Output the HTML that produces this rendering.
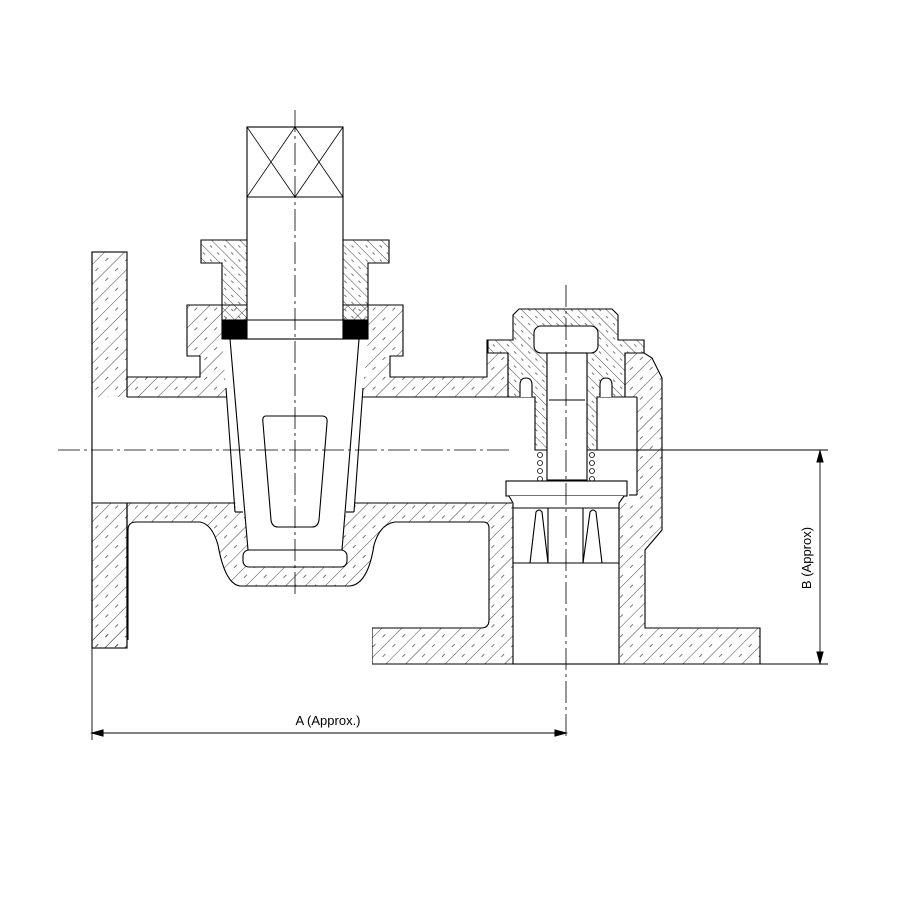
<!DOCTYPE html>
<html><head><meta charset="utf-8"><style>html,body{margin:0;padding:0;background:#fff}svg{display:block}</style></head>
<body>
<svg width="900" height="900" viewBox="0 0 900 900" xmlns="http://www.w3.org/2000/svg" font-family="Liberation Sans, sans-serif">
<defs>
<pattern id="h1" width="14" height="14" patternUnits="userSpaceOnUse" patternTransform="rotate(-45)">
<line x1="0" y1="0" x2="14" y2="0" stroke="#333" stroke-width="0.9"/>
<line x1="2" y1="7" x2="6" y2="7" stroke="#555" stroke-width="0.8"/>
</pattern>
<pattern id="h2" width="10" height="10" patternUnits="userSpaceOnUse" patternTransform="rotate(45)">
<line x1="0" y1="0" x2="10" y2="0" stroke="#333" stroke-width="0.9"/>
<line x1="2" y1="5" x2="5" y2="5" stroke="#555" stroke-width="0.8"/>
</pattern>
</defs>
<g stroke="#000" stroke-width="1.1" fill="none">
<rect x="92" y="252" width="35" height="396" fill="url(#h1)"/>
<path d="M127,377 H200 V356 H187 V305 H403 V356 H390 V377 H487 V340 H644 V353 L652,358 L662,378 V530 L645,550 V628 H760 V664 H372 V628 H127 Z" fill="url(#h1)"/>
<rect x="92" y="397" width="545" height="106" fill="#fff" stroke="none"/>
<line x1="127" y1="397" x2="637" y2="397"/>
<line x1="92" y1="503" x2="512" y2="503"/>
<line x1="92" y1="252" x2="92" y2="648"/>
<path d="M127,522 H200 Q212,524 218,545 Q225,584 240,586 H350 Q368,584 374,545 Q380,524 395,522 H483 Q489,522 489,528 V628 H372 V700 H128 V522 Z" fill="#fff" stroke="none"/>
<rect x="93" y="629" width="33" height="19" fill="url(#h1)" stroke="none"/>
<path d="M128,640 V530 Q128,522 136,522 H200 Q212,524 218,545 Q225,584 240,586 H350 Q368,584 374,545 Q380,524 395,522 H483 Q489,522 489,528 V620 Q489,628 481,628 H372"/>
<line x1="127" y1="503" x2="127" y2="648"/>
<line x1="92" y1="648" x2="127" y2="648"/>
<line x1="637" y1="397" x2="637" y2="495"/>
<line x1="629" y1="495" x2="637" y2="495"/>
<rect x="513" y="503" width="106" height="161" fill="#fff"/>
<path d="M488,340 H513 V315 L519,309 H612 L618,315 V340 H644 V353 H625 V397 H597 V450 H587 V353 H547 V450 H535 V397 H508 V353 H488 Z" fill="#fff" stroke="none"/>
<path d="M488,340 H513 V315 L519,309 H612 L618,315 V340 H644 V353 H625 V397 H597 V450 H587 V353 H547 V450 H535 V397 H508 V353 H488 Z" fill="url(#h2)"/>
<line x1="488" y1="353" x2="508" y2="353"/>
<line x1="508" y1="353" x2="508" y2="397"/>
<line x1="625" y1="353" x2="625" y2="397"/>
<rect x="534" y="326" width="64" height="27" rx="7" fill="#fff"/>
<rect x="547" y="353" width="40" height="127" fill="#fff"/>
<line x1="549" y1="400" x2="585" y2="400"/>
<path d="M520,397 V385 Q520,378 526,378 Q532,378 532,385 V397 M600,397 V385 Q600,378 606,378 Q612,378 612,385 V397" fill="#fff"/>
<g stroke-width="0.8">
<circle cx="540" cy="455" r="2.5"/><circle cx="540" cy="463" r="2.5"/><circle cx="540" cy="471" r="2.5"/><circle cx="540" cy="479" r="2.5"/>
<circle cx="592" cy="455" r="2.5"/><circle cx="592" cy="463" r="2.5"/><circle cx="592" cy="471" r="2.5"/><circle cx="592" cy="479" r="2.5"/>
</g>
<rect x="506" y="481" width="121" height="15" fill="#fff"/>
<path d="M509,496 L513,503 V563 H619 V503 L624,496" fill="#fff"/>
<line x1="513" y1="508" x2="619" y2="508"/>
<path d="M530,563 L536,512 Q539,508 542,512 L548,563 M583,563 L590,512 Q593,508 596,512 L602,563"/>
<line x1="548" y1="508" x2="548" y2="563"/><line x1="583" y1="508" x2="583" y2="563"/>
<path d="M222,339 H368 L363,388 L354,512 H236 L226,388 Z" fill="#fff" stroke="none"/>
<line x1="226" y1="388" x2="235" y2="512"/><line x1="235" y1="512" x2="243" y2="512"/>
<line x1="363" y1="388" x2="354" y2="512"/><line x1="354" y1="512" x2="346" y2="512"/>
<path d="M230,339 H359 L342,550 H248 Z" fill="#fff"/>
<rect x="243" y="550" width="104" height="17" rx="6" fill="#fff"/>
<path d="M266,416 H322 Q328,416 327,423 L319,520 Q318,527 312,527 H278 Q272,527 271,520 L263,423 Q262,416 266,416 Z"/>
<path d="M201,240 H389 V263 H368 V320 H222 V263 H201 Z" fill="url(#h2)"/>
<rect x="222" y="320" width="25" height="19" fill="#000"/>
<rect x="343" y="320" width="25" height="19" fill="#000"/>
<rect x="247" y="127" width="96" height="212" fill="#fff"/>
<line x1="247" y1="197" x2="343" y2="197"/>
<line x1="247" y1="320" x2="343" y2="320"/>
<path d="M247,127 L295,197 M295,127 L247,197 M295,127 L343,197 M343,127 L295,197" stroke-width="0.8"/>
<g stroke-width="0.8" stroke-dasharray="22,4,3,4">
<line x1="58" y1="450" x2="512" y2="450"/>
<line x1="295" y1="110" x2="295" y2="596"/>
<line x1="566" y1="285" x2="566" y2="740"/>
</g>
<line x1="597" y1="450" x2="828" y2="450" stroke-width="0.9"/>
<line x1="760" y1="664" x2="828" y2="664" stroke-width="0.9"/>
<line x1="820" y1="452" x2="820" y2="662" stroke-width="0.9"/>
<path d="M820,451 L817,462 L823,462 Z M820,663 L817,652 L823,652 Z" fill="#000"/>
<line x1="92" y1="648" x2="92" y2="740" stroke-width="0.9"/>
<line x1="93" y1="733" x2="565" y2="733" stroke-width="0.9"/>
<path d="M92,733 L103,730 L103,736 Z M566,733 L555,730 L555,736 Z" fill="#000"/>
</g>
<text x="328" y="725" font-size="13" text-anchor="middle" fill="#000">A (Approx.)</text>
<text transform="translate(811,558) rotate(-90)" font-size="13" text-anchor="middle" fill="#000">B (Approx)</text>
</svg>
</body></html>
